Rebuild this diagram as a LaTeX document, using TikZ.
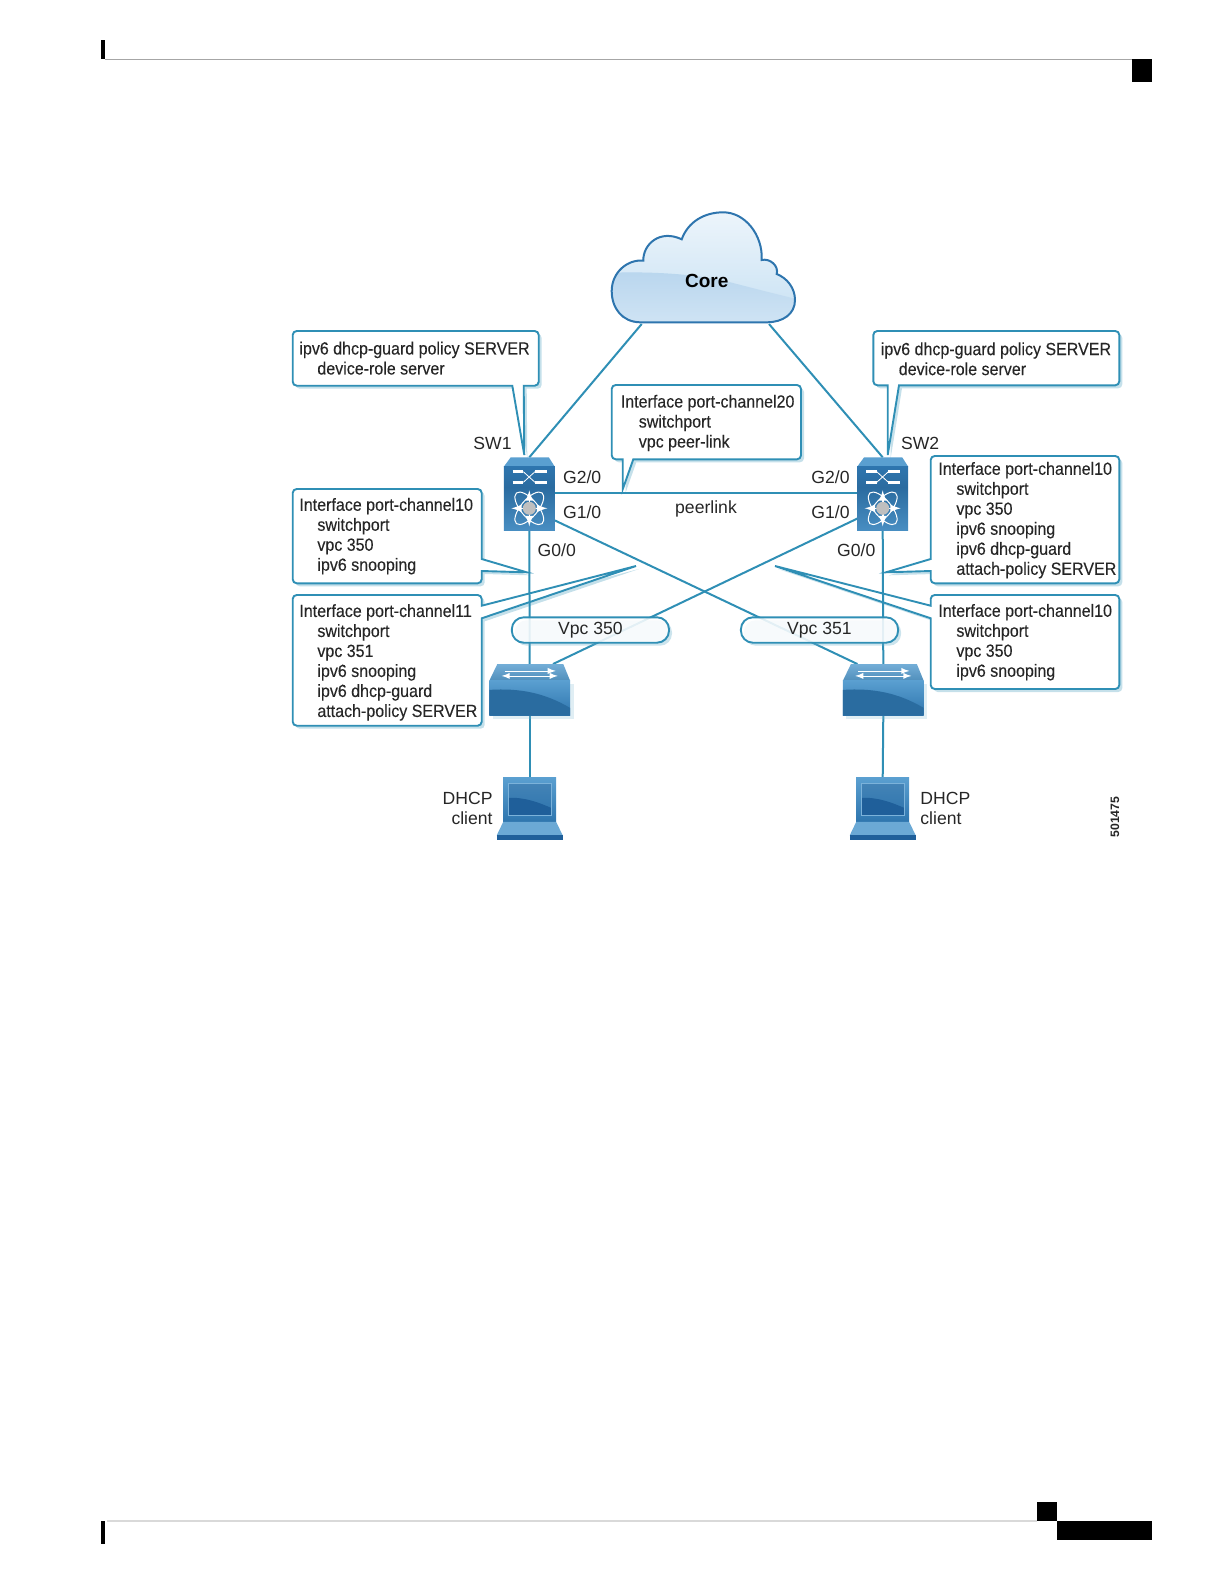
\documentclass[tikz,border=0pt]{standalone}
\usepackage{fontspec}
\setmainfont{Liberation Sans}
\newfontfamily\boxfont[FakeStretch=0.91,FakeBold=0.12]{Liberation Sans}
\usetikzlibrary{shadows}
\usetikzlibrary{arrows}

\definecolor{linkblue}{HTML}{2F8FB5}
\definecolor{devdark}{HTML}{1F5F9A}
\definecolor{devmid}{HTML}{2E75AE}
\definecolor{devlight}{HTML}{5A9FD0}
\definecolor{cloudtop}{HTML}{EDF5FB}
\definecolor{cloudmid}{HTML}{CFE5F5}
\definecolor{bandtop}{HTML}{B9D6EE}
\definecolor{bandbot}{HTML}{D0E4F4}
\newcommand{\ind}{\hspace*{9pt}}

\tikzset{
 softshadow/.style={drop shadow={shadow xshift=1.5pt,shadow yshift=-1.5pt,fill=linkblue!70,opacity=.4}},
 callout/.style={draw=linkblue,line width=.95pt,fill=white,softshadow},
 link/.style={draw=linkblue,line width=1pt},
 boxtext/.style={anchor=west,inner sep=0pt,align=left,text=black!85,font=\boxfont\fontsize{8.8}{10}\selectfont},
 lbl/.style={inner sep=0pt,text=black!85,font=\fontsize{8.8}{10.3}\selectfont},
 pill/.style={draw=linkblue,line width=.95pt,fill=white,fill opacity=.85,text opacity=1,rounded corners=6pt,
   minimum width=78.6pt,minimum height=12.7pt,inner sep=0pt,text=black!85,font=\fontsize{8.8}{10}\selectfont,
   drop shadow={shadow xshift=1.5pt,shadow yshift=-1.5pt,fill=linkblue!70,opacity=.35}},
 swbox/.style={minimum width=25.5pt,minimum height=36.7pt,inner sep=0pt,outer sep=0pt},
 accbox/.style={minimum width=40.35pt,minimum height=25.85pt,inner sep=0pt,outer sep=0pt},
 lapbox/.style={minimum width=33pt,minimum height=31.15pt,inner sep=0pt,outer sep=0pt},
 nexus/.pic={
  \fill[devlight] (-25.5,-27.3) -- (-18.6,-36.7) -- (19.5,-36.7) -- (25.5,-27.3) -- cycle;
  \shade[top color=devmid,bottom color=devmid!92!black] (-25.5,-27.3) rectangle (25.5,-7.3);
  \shade[top color=devmid!92!black,bottom color=devlight!60!devmid] (-25.5,-6.3) rectangle (25.5,36.7);
  \draw[white,line width=1.5pt] (-16.6,-22.3) -- (-6,-22.3) (-16.6,-11.7) -- (-6,-11.7) (5.7,-22.3) -- (17.4,-22.3) (5.7,-11.7) -- (17.4,-11.7);
  \draw[white,line width=.4pt] (-6,-22.3) -- (5.7,-11.7) (-6,-11.7) -- (5.7,-22.3);
  \draw[white,line width=.5pt,rotate around={50:(0,14.3)}] (0,14.3) ellipse (20 and 8.5);
  \draw[white,line width=.5pt,rotate around={-50:(0,14.3)}] (0,14.3) ellipse (20 and 8.5);
  \foreach \ang in {0,90,180,270}
   \draw[white,line width=.8pt,-latex] (0,14.3) -- ++(\ang:18);
  \fill[black!25] (0,14.3) circle (6.5);
 },
 accsw/.pic={
  \fill[linkblue!60,opacity=.25] (-37,-6) rectangle (44,29.5);
  \shade[top color=devlight!85!white,bottom color=devlight!90!black] (-32.4,-25.8) -- (33.6,-25.8) -- (40.35,-9.3) -- (-40.35,-9.3) -- cycle;
  \shade[top color=devlight,bottom color=devmid] (-40.35,-9.3) rectangle (40.35,25.8);
  \fill[devmid!92!black] (-40.35,0) .. controls (-10,-2) and (15,3) .. (40.35,18) -- (40.35,25.8) -- (-40.35,25.8) -- cycle;
  \draw[white,line width=.4pt,-latex] (-25,-19) -- (26,-19);
  \draw[white,line width=.4pt,latex-latex] (-28,-14) -- (28,-14);
 },
 laptop/.pic={
  \shade[top color=devlight,bottom color=devmid] (-26.5,-31) rectangle (26.5,13);
  \shade[top color=devmid!90!white,bottom color=devmid] (-21.5,-25.5) rectangle (21.5,7);
  \fill[devdark] (-21.5,-11) .. controls (-5,-12) and (10,-6) .. (21.5,-1) -- (21.5,7) -- (-21.5,7) -- cycle;
  \draw[devlight!80!white,line width=.5pt] (-21.5,-25.5) rectangle (21.5,7);
  \fill[devlight!90!white] (-26.5,13) -- (26.5,13) -- (33,26.5) -- (-33,26.5) -- cycle;
  \fill[devdark] (-33,26.5) rectangle (33,31.1);
 }
}

\begin{document}
\begin{tikzpicture}[x=0.5pt,y=-0.5pt]
\useasboundingbox (0,0) rectangle (1224,1584);

\fill[black] (101,40) rectangle (105,59);
\draw[black!35,line width=.6pt] (105,59.3) -- (1132,59.3);
\fill[black] (1132,59) rectangle (1152,82);
\fill[black] (101,1521) rectangle (105,1544);
\draw[black!15,line width=.8pt] (107,1520.7) -- (1037,1520.7);
\fill[black] (1037,1502) rectangle (1057,1521);
\fill[black] (1057,1521) rectangle (1152,1540);

\begin{scope}
 \clip (640,322.3) .. controls (622,322) and (611.7,308) .. (611.7,291) .. controls (611.7,272) and (628,259) .. (643.3,260.7) .. controls (643,244) and (660,229) .. (681.7,239.3) .. controls (688,222) and (704,212.3) .. (723.3,212.3) .. controls (745,212.3) and (763,235) .. (761.7,260) .. controls (770,258) and (779,266) .. (776.7,274) .. controls (787,278) and (795,288) .. (795,300) .. controls (795,314) and (783,322.3) .. (766.7,322.3) -- cycle;
 \shade[top color=cloudtop,bottom color=cloudmid] (605,210) rectangle (800,300);
 \shade[top color=bandtop,bottom color=bandbot] (605,273) .. controls (650,271) and (700,274) .. (733,283) .. controls (760,290) and (780,295) .. (800,300) -- (800,325) -- (605,325) -- cycle;
\end{scope}
\draw[draw=devmid,line width=1pt] (640,322.3) .. controls (622,322) and (611.7,308) .. (611.7,291) .. controls (611.7,272) and (628,259) .. (643.3,260.7) .. controls (643,244) and (660,229) .. (681.7,239.3) .. controls (688,222) and (704,212.3) .. (723.3,212.3) .. controls (745,212.3) and (763,235) .. (761.7,260) .. controls (770,258) and (779,266) .. (776.7,274) .. controls (787,278) and (795,288) .. (795,300) .. controls (795,314) and (783,322.3) .. (766.7,322.3) -- cycle;
\node[inner sep=0pt,font=\bfseries\fontsize{9.5}{10}\selectfont] (core) at (706.7,280.5) {Core};
\coordinate (cloudl) at (641.7,324);
\coordinate (cloudr) at (769,324);

\draw[callout] (523.7,385.7) [rounded corners=2pt] -- (538.7,385.7) -- (538.7,331) -- (292.7,331) -- (292.7,385.7) [sharp corners] -- (512.3,385.7) -- (524.3,455) -- cycle;
\draw[callout] (899,385.3) [rounded corners=2pt] -- (1119.3,385.3) -- (1119.3,331) -- (873.3,331) -- (873.3,385.3) [sharp corners] -- (887.7,385.3) -- (887.7,455) -- cycle;
\draw[callout] (633.3,459.3) [rounded corners=2pt] -- (801,459.3) -- (801,385) -- (611.7,385) -- (611.7,459.3) [sharp corners] -- (622.7,459.3) -- (622.7,489.3) -- cycle;
\draw[callout] (481.7,559) [rounded corners=2pt] -- (481.7,489) -- (292.7,489) -- (292.7,583.3) -- (481.7,583.3) [sharp corners] -- (481.7,571) -- (526.7,572.3) -- cycle;
\draw[callout] (481.7,618.3) [rounded corners=2pt] -- (481.7,725.7) -- (292.7,725.7) -- (292.7,595) -- (481.7,595) [sharp corners] -- (481.7,605.7) -- (636,566) -- cycle;
\draw[callout] (930.7,559) [rounded corners=2pt] -- (930.7,456) -- (1119.3,456) -- (1119.3,583.3) -- (930.7,583.3) [sharp corners] -- (930.7,571) -- (886,572.3) -- cycle;
\draw[callout] (930.7,618.3) [rounded corners=2pt] -- (930.7,689) -- (1119.3,689) -- (1119.3,595) -- (930.7,595) [sharp corners] -- (930.7,605.7) -- (775,566) -- cycle;

\node[swbox] (sw1) at (529.3,494) {};
\node[swbox] (sw2) at (882.7,494) {};
\node[accbox] (acc1) at (529.7,689.9) {};
\node[accbox] (acc2) at (883.3,689.9) {};
\node[lapbox] (pc1) at (529.7,808.9) {};
\node[lapbox] (pc2) at (882.7,808.9) {};

\draw[link] (cloudl) -- (sw1.north);
\draw[link] (cloudr) -- (sw2.north);
\draw[link] (sw1.3) -- (sw2.177);
\draw[link] (sw1.south) -- (acc1.north);
\draw[link] (sw2.south) -- (acc2.north);
\draw[link] (acc1.south) -- (pc1.north);
\draw[link] (acc2.south) -- (pc2.north);
\draw[link] (sw1.-46) -- (acc2.135);
\draw[link] (sw2.224) -- (acc1.48);

\pic at (sw1) {nexus};
\pic at (sw2) {nexus};
\pic at (acc1) {accsw};
\pic at (acc2) {accsw};
\pic at (pc1) {laptop};
\pic at (pc2) {laptop};

\node[pill] (vpc1) at (590.4,630) {Vpc 350};
\node[pill] (vpc2) at (819.5,630) {Vpc 351};

\node[boxtext] (polleft) at (299,358.2) {ipv6 dhcp-guard policy SERVER\\\ind device-role server};
\node[boxtext] (polright) at (880.4,358.8) {ipv6 dhcp-guard policy SERVER\\\ind device-role server};
\node[boxtext] (chan20) at (620.4,423) {Interface port-channel20\\\ind switchport\\\ind vpc peer-link};
\node[boxtext] (chan10l) at (299,536.2) {Interface port-channel10\\\ind switchport\\\ind vpc 350\\\ind ipv6 snooping};
\node[boxtext] (chan11) at (299,662.4) {Interface port-channel11\\\ind switchport\\\ind vpc 351\\\ind ipv6 snooping\\\ind ipv6 dhcp-guard\\\ind attach-policy SERVER};
\node[boxtext] (chan10r) at (938,520.2) {Interface port-channel10\\\ind switchport\\\ind vpc 350\\\ind ipv6 snooping\\\ind ipv6 dhcp-guard\\\ind attach-policy SERVER};
\node[boxtext] (chan10b) at (938,642.2) {Interface port-channel10\\\ind switchport\\\ind vpc 350\\\ind ipv6 snooping};

\node[lbl,anchor=east] (sw1lbl) at (512,443.5) {SW1};
\node[lbl,anchor=west] (sw2lbl) at (900.7,443.5) {SW2};
\node[lbl,anchor=west] (g2l) at (562.7,477.7) {G2/0};
\node[lbl,anchor=west] (g1l) at (562.7,512.3) {G1/0};
\node[lbl,anchor=west] (g0l) at (537.3,550) {G0/0};
\node[lbl,anchor=east] (g2r) at (850,477.7) {G2/0};
\node[lbl,anchor=east] (g1r) at (850,512.3) {G1/0};
\node[lbl,anchor=east] (g0r) at (875.7,550) {G0/0};
\node[lbl] (peer) at (706,509) {peerlink};
\node[lbl,anchor=east,align=right] (dhcpl) at (493,808.6) {DHCP\\client};
\node[lbl,anchor=west,align=left] (dhcpr) at (920,808.6) {DHCP\\client};
\node[inner sep=0pt,rotate=90,text=black!85,font=\bfseries\fontsize{6.1}{7}\selectfont] (fignum) at (1115,817) {501475};
\end{tikzpicture}
\end{document}
